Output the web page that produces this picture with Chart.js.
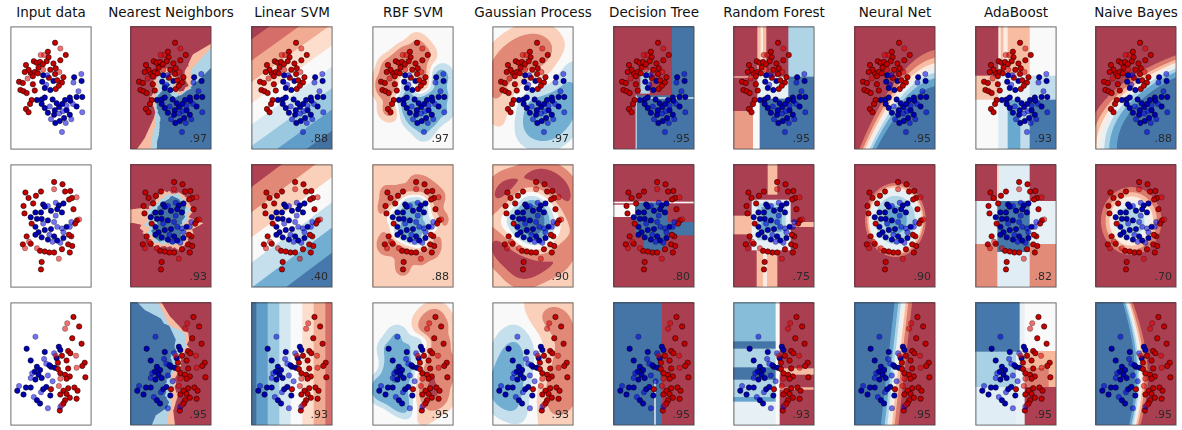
<!DOCTYPE html>
<html>
<head>
<meta charset="utf-8">
<script src="https://cdn.jsdelivr.net/npm/chart.js@4.4.1/dist/chart.umd.min.js"></script>
<style>
  html, body { margin: 0; padding: 0; background: #fff; }
  body { position: relative; width: 1182px; height: 430px; overflow: hidden; font-family: "DejaVu Sans", sans-serif; }
  .panel { position: absolute; }
  .panel canvas { display: block; }
  .title { position: absolute; width: 170px; text-align: center; font-size: 13.5px; line-height: 15px; color: #111; white-space: nowrap; }
  .score { position: absolute; text-align: right; font-size: 11px; line-height: 13px; color: #2a2a2a; white-space: nowrap; }
</style>
</head>
<body>
<script>
// ---------------- data ----------------
const classifierNames = ["Input data", "Nearest Neighbors", "Linear SVM", "RBF SVM", "Gaussian Process",
                         "Decision Tree", "Random Forest", "Neural Net", "AdaBoost", "Naive Bayes"];

// moons
const moonsRedTrain = [[0.30,3.23],[1.09,2.36],[-0.23,2.59],[-0.18,2.20],[-0.32,1.91],[-1.27,1.91],[-1.06,1.80],[-0.81,1.86],
  [-0.60,1.70],[-1.85,1.64],[0.18,1.75],[0.35,1.41],[-0.05,1.30],[-1.50,1.07],[-1.20,1.14],[-0.97,1.05],[-1.34,0.84],
  [0.30,1.00],[0.92,0.77],[-0.16,0.73],[0.46,0.55],[0.81,0.39],[-2.36,0.45],[-2.08,0.36],[-2.26,-0.14],[-2.03,-0.23],
  [-1.80,-0.36],[0.35,-0.07],[0.58,0.16],[-1.43,-0.86],[-1.55,-1.14],[-1.85,-1.50],[-1.66,-1.73],[0.69,1.98],
  [-0.92,1.45],[-1.66,1.30],[-1.94,1.14],[-1.34,0.27],[-1.20,-0.18]];
const moonsRedTest = [[0.69,2.82],[-0.51,2.36],[-0.76,2.36],[-1.73,0.68],[0.62,1.14],[-0.58,1.30]];
const moonsBlueTrain = [[-0.58,0.91],[-0.65,0.45],[0.18,0.50],[-0.46,0.00],[-0.05,-0.14],[1.71,0.77],[2.26,0.50],[2.31,-0.64],
  [1.89,-0.64],[1.39,-0.68],[-1.04,-0.86],[-0.69,-0.82],[-0.46,-0.68],[0.12,-0.82],[-0.46,-1.43],[0.28,-1.59],[0.60,-1.36],
  [0.83,-1.14],[1.43,-0.91],[-0.23,-1.77],[0.23,-1.91],[1.15,-1.59],[1.39,-1.91],[0.97,-2.14],[0.65,-2.36],[0.32,-2.50],
  [1.04,-0.86],[0.42,-1.09],[1.89,-1.32],[-0.69,-1.14]];
const moonsBlueTest = [[-0.28,0.91],[-0.35,0.23],[2.24,1.00],[1.66,0.39],[2.03,-0.23],[-0.09,-1.32],[1.15,-1.27],[1.62,-1.14],
  [0.60,-1.82],[0.88,-1.66],[1.50,-2.23],[0.00,-2.23],[2.31,-1.73],[0.81,-3.14],[1.09,-2.50]];

// circles
const circlesRedTrain = [[0.23,3.14],[0.85,2.98],[-0.74,2.46],[1.04,2.46],[1.43,2.50],[-1.89,2.39],[-1.66,2.00],[1.55,2.00],
  [-1.32,1.61],[-2.03,1.43],[1.66,1.20],[-1.96,0.90],[-1.43,0.17],[1.92,0.40],[1.78,0.17],[-1.80,-0.74],[-2.08,-1.31],
  [-1.50,-1.27],[-0.81,-1.77],[-0.12,-1.89],[0.23,-1.89],[0.81,-1.66],[1.39,-1.89],[1.27,-1.31],[1.50,-0.74],[1.32,-0.63],
  [1.57,-1.43],[-0.69,-2.57],[-0.74,-3.10],[-1.11,2.16],[1.34,1.89],[-0.46,-1.82]];
const circlesRedTest = [[0.23,2.63],[1.89,2.05],[2.08,0.47],[-1.92,-1.59],[-1.04,-1.59],[0.58,-2.34],[-1.62,-1.13]];
const circlesBlueTrain = [[-0.58,1.54],[-0.46,1.38],[0.58,1.47],[0.92,1.61],[0.00,1.09],[0.46,1.20],[0.81,0.97],[-0.74,0.97],
  [-1.15,0.97],[-1.50,0.63],[-1.04,0.51],[-1.15,-0.06],[-0.92,-0.45],[-1.15,-0.63],[-0.69,-0.81],[0.23,-0.74],[-0.23,-0.97],
  [0.46,-1.04],[0.92,-0.86],[1.15,-0.06],[-0.23,0.40],[-0.46,-0.29],[0.00,-0.22],[-0.69,0.51]];
const circlesBlueTest = [[-0.23,1.43],[0.35,1.66],[-0.12,-0.63],[0.12,-1.13],[0.69,-1.20],[1.39,-0.06],[1.50,0.29],[0.81,-0.17],
  [0.92,-0.45],[-0.58,0.17],[0.23,0.29],[0.46,-0.06],[0.35,0.74]];

// linearly separable
const linearRedTrain = [[1.66,3.36],[2.08,2.68],[1.57,1.84],[2.26,1.45],[1.27,0.93],[1.43,0.77],[0.81,0.59],[1.15,0.25],
  [0.51,0.09],[2.49,0.09],[2.31,-0.14],[1.27,-0.32],[0.51,-0.36],[0.69,-0.66],[1.04,-0.77],[1.39,-0.89],[1.15,-1.05],
  [2.54,-0.95],[0.00,-1.80],[1.73,-1.68],[1.27,-1.73],[0.92,-1.91],[1.96,-1.91],[0.69,-2.18],[1.15,-2.14],[1.39,-2.41],
  [1.04,-2.59],[0.92,-2.82],[1.89,-2.48],[0.65,-3.32]];
const linearRedTest = [[1.20,2.91],[1.04,2.52],[1.85,0.59],[1.89,-0.27],[0.69,-1.05],[0.58,-1.57],[0.81,-2.93],[0.35,0.59]];
const linearBlueTrain = [[-1.80,1.09],[-0.46,0.86],[0.58,1.23],[0.69,1.00],[-1.50,0.25],[0.00,-0.20],[-0.12,-0.09],[-1.04,-0.20],
  [-1.20,-0.55],[-0.81,-0.43],[-0.92,-0.77],[-0.69,-1.00],[-1.15,-1.11],[-1.85,-1.68],[-1.50,-1.68],[-2.49,-1.91],
  [-2.03,-2.18],[-0.58,-1.80],[-0.35,-1.64],[-1.04,-2.59],[-0.81,-2.82],[-0.05,-2.25],[0.28,-0.27],[0.42,0.41]];
const linearBlueTest = [[-1.15,1.95],[0.23,0.77],[-0.35,0.02],[-1.39,-0.66],[-1.50,-1.00],[-0.23,-0.82],[0.12,-1.23],
  [-2.36,-1.57],[-0.74,-2.02],[-1.27,-2.36],[-0.23,-3.16],[0.69,-3.05],[-0.51,0.36]];

// test accuracy per classifier (columns 2..10)
const scoresMoons   = [0.97, 0.88, 0.97, 0.97, 0.95, 0.95, 0.95, 0.93, 0.88];
const scoresCircles = [0.93, 0.40, 0.88, 0.90, 0.80, 0.75, 0.90, 0.82, 0.70];
const scoresLinear  = [0.95, 0.93, 0.95, 0.93, 0.95, 0.93, 0.95, 0.95, 0.95];

// Linear SVM decision planes: [offset, x weight, y weight, number of contour bands]
const linearSvmPlanes = [[0.513, 0.0507, -0.0729, 9], [0.532, 0.0575, -0.0794, 7], [0.548, -0.1307, 0, 9]];
// RBF SVM / Gaussian process kernel smoothers: [length scale, saturation, gain, far-field bias]
const rbfParams = [[0.40, 0.8, 0.36, 0.0], [0.38, 0.8, 0.34, -0.14], [0.50, 0.8, 0.42, -0.04]];
const gpParams  = [[0.95, 3.0, 0.42, 0.0], [0.85, 2.5, 0.75, -0.14], [1.00, 3.0, 0.45, -0.06]];
// MLP logit surface: [c, x, y, x², y², xy, gain on the negative side]
const mlpCoefs = [[-1.365, 2.01, -1.5, -0.285, 0, 0, 1],
                  [1.341, 0.049, 0.236, -0.410, -0.295, 0, 2.9],
                  [0.42, -3.0, 0.348, 0, 0, 0, 1]];
// leaf regions [x0, x1, y0, y1, probability of the blue class]
const treeBase = [0.0625, 0.0625, 0.0625];
const treeLeaves = [
  [[1.35,3,-4.4,4.4,0.9375],[-1.28,1.35,-4.4,-0.55,0.9375],[-1.28,3,-0.80,-0.70,0.56],[-0.98,-0.30,-0.43,1.27,0.69],[-1.33,-1.25,-4.4,-0.55,0.56]],
  [[-3,3,1.60,1.72,0.5],[-3,-1.38,0.62,1.50,0.5],[-1.38,1.02,-0.70,1.67,0.9375],[1.02,3,-0.70,0.26,0.9375],[-0.72,0.90,-1.76,-0.70,0.9375]],
  [[-3,0.6,-4.4,4.4,0.9375],[0.06,0.16,-4.4,-1.23,0.5]]
];
const forestBase = [0.0625, 0.0625, 0.0625];
const forestLeaves = [
  [[-3,-1.53,-4.4,-1.67,0.25],[-1.2,-0.54,0.79,4.4,0.3125],[-0.96,-0.78,0.79,4.4,0.44],[1.08,3,0.79,4.4,0.6875],
   [1.08,3,-4.4,0.79,0.9375],[-1.2,1.08,-0.79,0.79,0.5625],[-1.02,1.08,-4.4,-0.79,0.9375],[-1.53,-1.02,-4.4,-0.79,0.5],
   [-3,-1.2,0.70,0.80,0.3125]],
  [[-0.45,0.27,2.2,4.4,0.3125],[-1.26,0.27,-4.4,-1.76,0.3125],[-0.78,-0.48,-4.4,-1.76,0.44],[-3,-1.5,-0.62,0.70,0.3125],
   [1.26,3,-0.09,0.26,0.3125],[-1.62,1.26,-1.76,1.85,0.5625],[-1.2,0.9,-1.06,1.58,0.6875],[-0.9,0.6,-0.44,1.32,0.8125]],
  [[-3,0.27,1.58,4.4,0.75],[-3,0.27,1.06,1.58,0.9375],[-3,0.27,-0.26,1.06,0.6875],[-3,0.27,-1.14,-0.26,0.9375],
   [-3,0.27,-2.38,-1.14,0.6875],[-3,0.27,-2.73,-2.38,0.8125],[-3,0.27,-4.4,-2.73,0.5625],[0.15,0.45,-4.4,4.4,0.5],
   [0.45,3,-0.79,-0.35,0.3125],[0.45,3,-1.85,-1.7,0.3125]]
];
const adaBase = [0.5, 0.0625, 0.5];
const adaLeaves = [
  [[-3,-1.27,0.85,4.4,0.0625],[-1.27,-0.58,0.85,4.4,0.44],[-1.1,-0.9,0.85,4.4,0.3125],[-0.58,1.04,0.85,4.4,0.3125],
   [1.04,3,0.85,4.4,0.5],[-3,-1.27,-0.86,0.85,0.33],[-1.27,1.04,-0.86,0.85,0.55],[1.04,3,-0.86,0.85,0.65],
   [-3,-1.27,-4.4,-0.86,0.5],[-1.27,-0.58,-4.4,-0.86,0.6],[-0.58,0.35,-4.4,-0.86,0.8],[0.35,1.04,-4.4,-0.86,0.65],
   [1.04,3,-4.4,-0.86,0.93]],
  [[-1.35,1.05,-4.4,4.4,0.58],[-1.38,-1.25,1.76,4.4,0.35],[-3,-1.35,-1.32,1.76,0.56],[1.05,3,-1.32,1.76,0.56],
   [-3,-1.35,-4.4,-1.32,0.22],[1.05,3,-4.4,-1.32,0.22],[-1.35,1.05,-1.89,1.76,0.93]],
  [[-3,0.29,0.85,4.4,0.93],[0.29,0.67,-4.4,4.4,0.55],[0.04,0.29,-4.4,0.85,0.55],[0.67,3,0.9,4.4,0.5],
   [-3,0.04,-1.68,0.85,0.7],[0.67,3,-1.68,0.9,0.3],[0.67,2.44,-1.68,-0.32,0.2],[-3,0.04,-4.4,-1.68,0.58],
   [0.67,3,-4.4,-1.68,0.07]]
];

// ---------------- layout ----------------
const PANEL_W = 88, PANEL_H = 130;
const colLeft = [7, 127, 248, 369, 489, 610, 730, 851, 972, 1092];
const rowTop = [23, 161, 299];
const X_RANGE = [-3, 3], Y_RANGE = [-4.4, 4.4];

// ---------------- colour map (RdBu, alpha 0.8 on white) ----------------
const RDBU = [[103,0,31],[178,24,43],[214,96,77],[244,165,130],[253,219,199],[247,247,247],
              [209,229,240],[146,197,222],[67,147,195],[33,102,172],[5,48,97]];
function rdbu(t) {
  t = Math.max(0, Math.min(1, t));
  const s = t * 10, i = Math.min(9, Math.floor(s)), f = s - i, a = RDBU[i], b = RDBU[i + 1];
  return [0, 1, 2].map(k => (a[k] + (b[k] - a[k]) * f) * 0.8 + 255 * 0.2);
}
function bandColor(t, bands) {
  if (bands > 0) {
    const k = Math.max(0, Math.min(bands - 1, Math.floor(t * bands)));
    t = (k + 0.5) / bands;
  }
  return rdbu(t);
}

// ---------------- decision surfaces ----------------
const labelled = (red, blue) => red.map(p => [p[0], p[1], 0]).concat(blue.map(p => [p[0], p[1], 1]));

function knnSurface(train) {
  return (x, y) => {
    const best = [[1e9, 0], [1e9, 0], [1e9, 0]];
    for (const p of train) {
      const d = (p[0] - x) ** 2 + (p[1] - y) ** 2;
      if (d < best[2][0]) { best[2] = [d, p[2]]; best.sort((a, b) => a[0] - b[0]); }
    }
    return (best[0][1] + best[1][1] + best[2][1]) / 3;
  };
}
function planeSurface([c, wx, wy]) { return (x, y) => c + wx * x + wy * y; }
function kernelSurface(pts, [s, k, A, bias]) {
  const g = 1 / (2 * s * s);
  return (x, y) => {
    let S = 0, D = 0;
    for (const p of pts) {
      const w = Math.exp(-((p[0] - x) ** 2 + (p[1] - y) ** 2) * g);
      D += w; S += p[2] ? w : -w;
    }
    return 0.5 + (bias * k + A * S) / (D + k);
  };
}
function leafSurface(base, leaves) {
  return (x, y) => {
    let t = base;
    for (const r of leaves) if (x >= r[0] && x < r[1] && y >= r[2] && y < r[3]) t = r[4];
    return t;
  };
}
function mlpSurface([c, cx, cy, cxx, cyy, cxy, kneg]) {
  return (x, y) => {
    let q = c + cx * x + cy * y + cxx * x * x + cyy * y * y + cxy * x * y;
    if (q < 0) q *= kneg;
    return 1 / (1 + Math.exp(-q));
  };
}
function naiveBayesSurface(train) {
  const cls = [0, 1].map(c => {
    const pts = train.filter(p => p[2] === c), n = pts.length;
    const m = [0, 1].map(d => pts.reduce((s, p) => s + p[d], 0) / n);
    const v = [0, 1].map(d => pts.reduce((s, p) => s + (p[d] - m[d]) ** 2, 0) / n);
    return { n, m, v };
  });
  const prior = Math.log(cls[1].n / cls[0].n);
  return (x, y) => {
    const X = [x, y];
    let L = prior;
    for (let d = 0; d < 2; d++) {
      L += -0.5 * Math.log(cls[1].v[d]) - (X[d] - cls[1].m[d]) ** 2 / (2 * cls[1].v[d]);
      L -= -0.5 * Math.log(cls[0].v[d]) - (X[d] - cls[0].m[d]) ** 2 / (2 * cls[0].v[d]);
    }
    return 1 / (1 + Math.exp(-L));
  };
}

// ---------------- rows ----------------
const rows = [
  { redTrain: moonsRedTrain, redTest: moonsRedTest, blueTrain: moonsBlueTrain, blueTest: moonsBlueTest, scores: scoresMoons },
  { redTrain: circlesRedTrain, redTest: circlesRedTest, blueTrain: circlesBlueTrain, blueTest: circlesBlueTest, scores: scoresCircles },
  { redTrain: linearRedTrain, redTest: linearRedTest, blueTrain: linearBlueTrain, blueTest: linearBlueTest, scores: scoresLinear }
];

function surfacesFor(r, row) {
  const train = labelled(row.redTrain, row.blueTrain);
  const all = labelled(row.redTrain.concat(row.redTest), row.blueTrain.concat(row.blueTest));
  return [
    null,
    { fn: knnSurface(train), bands: 8 },
    { fn: planeSurface(linearSvmPlanes[r]), bands: linearSvmPlanes[r][3] },
    { fn: kernelSurface(all, rbfParams[r]), bands: 7 },
    { fn: kernelSurface(all, gpParams[r]), bands: 7 },
    { fn: leafSurface(treeBase[r], treeLeaves[r]), bands: 0 },
    { fn: leafSurface(forestBase[r], forestLeaves[r]), bands: 0 },
    { fn: mlpSurface(mlpCoefs[r]), bands: 8 },
    { fn: leafSurface(adaBase[r], adaLeaves[r]), bands: 0 },
    { fn: naiveBayesSurface(train), bands: 8 }
  ];
}

// ---------------- plugins ----------------
const surfaceOf = new Map();
const surfacePlugin = {
  id: 'surface',
  beforeDatasetsDraw(chart) {
    const spec = surfaceOf.get(chart.canvas);
    if (!spec) return;
    const { left, top, right, bottom } = chart.chartArea;
    const w = Math.round(right - left), h = Math.round(bottom - top);
    const xs = chart.scales.x, ys = chart.scales.y;
    const img = chart.ctx.createImageData(w, h);
    const SS = 3;
    for (let j = 0; j < h; j++) {
      for (let i = 0; i < w; i++) {
        let r = 0, g = 0, b = 0;
        for (let sj = 0; sj < SS; sj++) {
          const y = ys.getValueForPixel(top + j + (sj + 0.5) / SS);
          for (let si = 0; si < SS; si++) {
            const x = xs.getValueForPixel(left + i + (si + 0.5) / SS);
            const c = bandColor(spec.fn(x, y), spec.bands);
            r += c[0]; g += c[1]; b += c[2];
          }
        }
        const o = (j * w + i) * 4, n = SS * SS;
        img.data[o] = r / n; img.data[o + 1] = g / n; img.data[o + 2] = b / n; img.data[o + 3] = 255;
      }
    }
    chart.ctx.putImageData(img, Math.round(left), Math.round(top));
  }
};
const framePlugin = {
  id: 'frame',
  afterDraw(chart) {
    const { left, top, right, bottom } = chart.chartArea;
    const ctx = chart.ctx;
    ctx.save();
    ctx.strokeStyle = 'rgba(60,60,60,0.75)';
    ctx.lineWidth = 1;
    ctx.strokeRect(left + 0.5, top + 0.5, right - left - 1, bottom - top - 1);
    ctx.restore();
  }
};

const asXY = pts => pts.map(p => ({ x: p[0], y: p[1] }));
function pointSet(pts, fill, edge) {
  return { data: asXY(pts), backgroundColor: fill, borderColor: edge, borderWidth: 0.7,
           pointRadius: 2.7, pointHoverRadius: 2.7, showLine: false };
}

function makePanel(r, c, row, spec) {
  const wrap = document.createElement('div');
  wrap.className = 'panel';
  wrap.style.left = colLeft[c] + 'px';
  wrap.style.top = rowTop[r] + 'px';
  const cv = document.createElement('canvas');
  cv.width = PANEL_W; cv.height = PANEL_H;
  cv.style.width = PANEL_W + 'px'; cv.style.height = PANEL_H + 'px';
  wrap.appendChild(cv);
  document.body.appendChild(wrap);
  if (spec) surfaceOf.set(cv, spec);
  new Chart(cv, {
    type: 'scatter',
    data: { datasets: [
      pointSet(row.redTest, 'rgba(225,0,0,0.55)', 'rgba(0,0,0,0.35)'),
      pointSet(row.blueTest, 'rgba(0,0,225,0.55)', 'rgba(0,0,0,0.35)'),
      pointSet(row.redTrain, '#c40000', 'rgba(0,0,0,0.7)'),
      pointSet(row.blueTrain, '#0000b4', 'rgba(0,0,0,0.7)')
    ] },
    options: {
      responsive: false, animation: false, devicePixelRatio: 1, events: [],
      layout: { padding: 0 },
      scales: {
        x: { type: 'linear', min: X_RANGE[0], max: X_RANGE[1], display: false },
        y: { type: 'linear', min: Y_RANGE[0], max: Y_RANGE[1], display: false }
      },
      plugins: { legend: { display: false }, tooltip: { enabled: false }, title: { display: false } }
    },
    plugins: [surfacePlugin, framePlugin]
  });
  if (c > 0) {
    const s = document.createElement('div');
    s.className = 'score';
    s.textContent = row.scores[c - 1].toFixed(2).replace(/^0/, '');
    s.style.left = colLeft[c] + 'px';
    s.style.width = (PANEL_W - 8) + 'px';
    s.style.top = (rowTop[r] + PANEL_H - 21) + 'px';
    document.body.appendChild(s);
  }
}

classifierNames.forEach((name, c) => {
  const t = document.createElement('div');
  t.className = 'title';
  t.textContent = name;
  t.style.left = (colLeft[c] + PANEL_W / 2 - 85) + 'px';
  t.style.top = '5px';
  document.body.appendChild(t);
});

rows.forEach((row, r) => {
  const specs = surfacesFor(r, row);
  for (let c = 0; c < 10; c++) makePanel(r, c, row, specs[c]);
});
</script>
</body>
</html>
